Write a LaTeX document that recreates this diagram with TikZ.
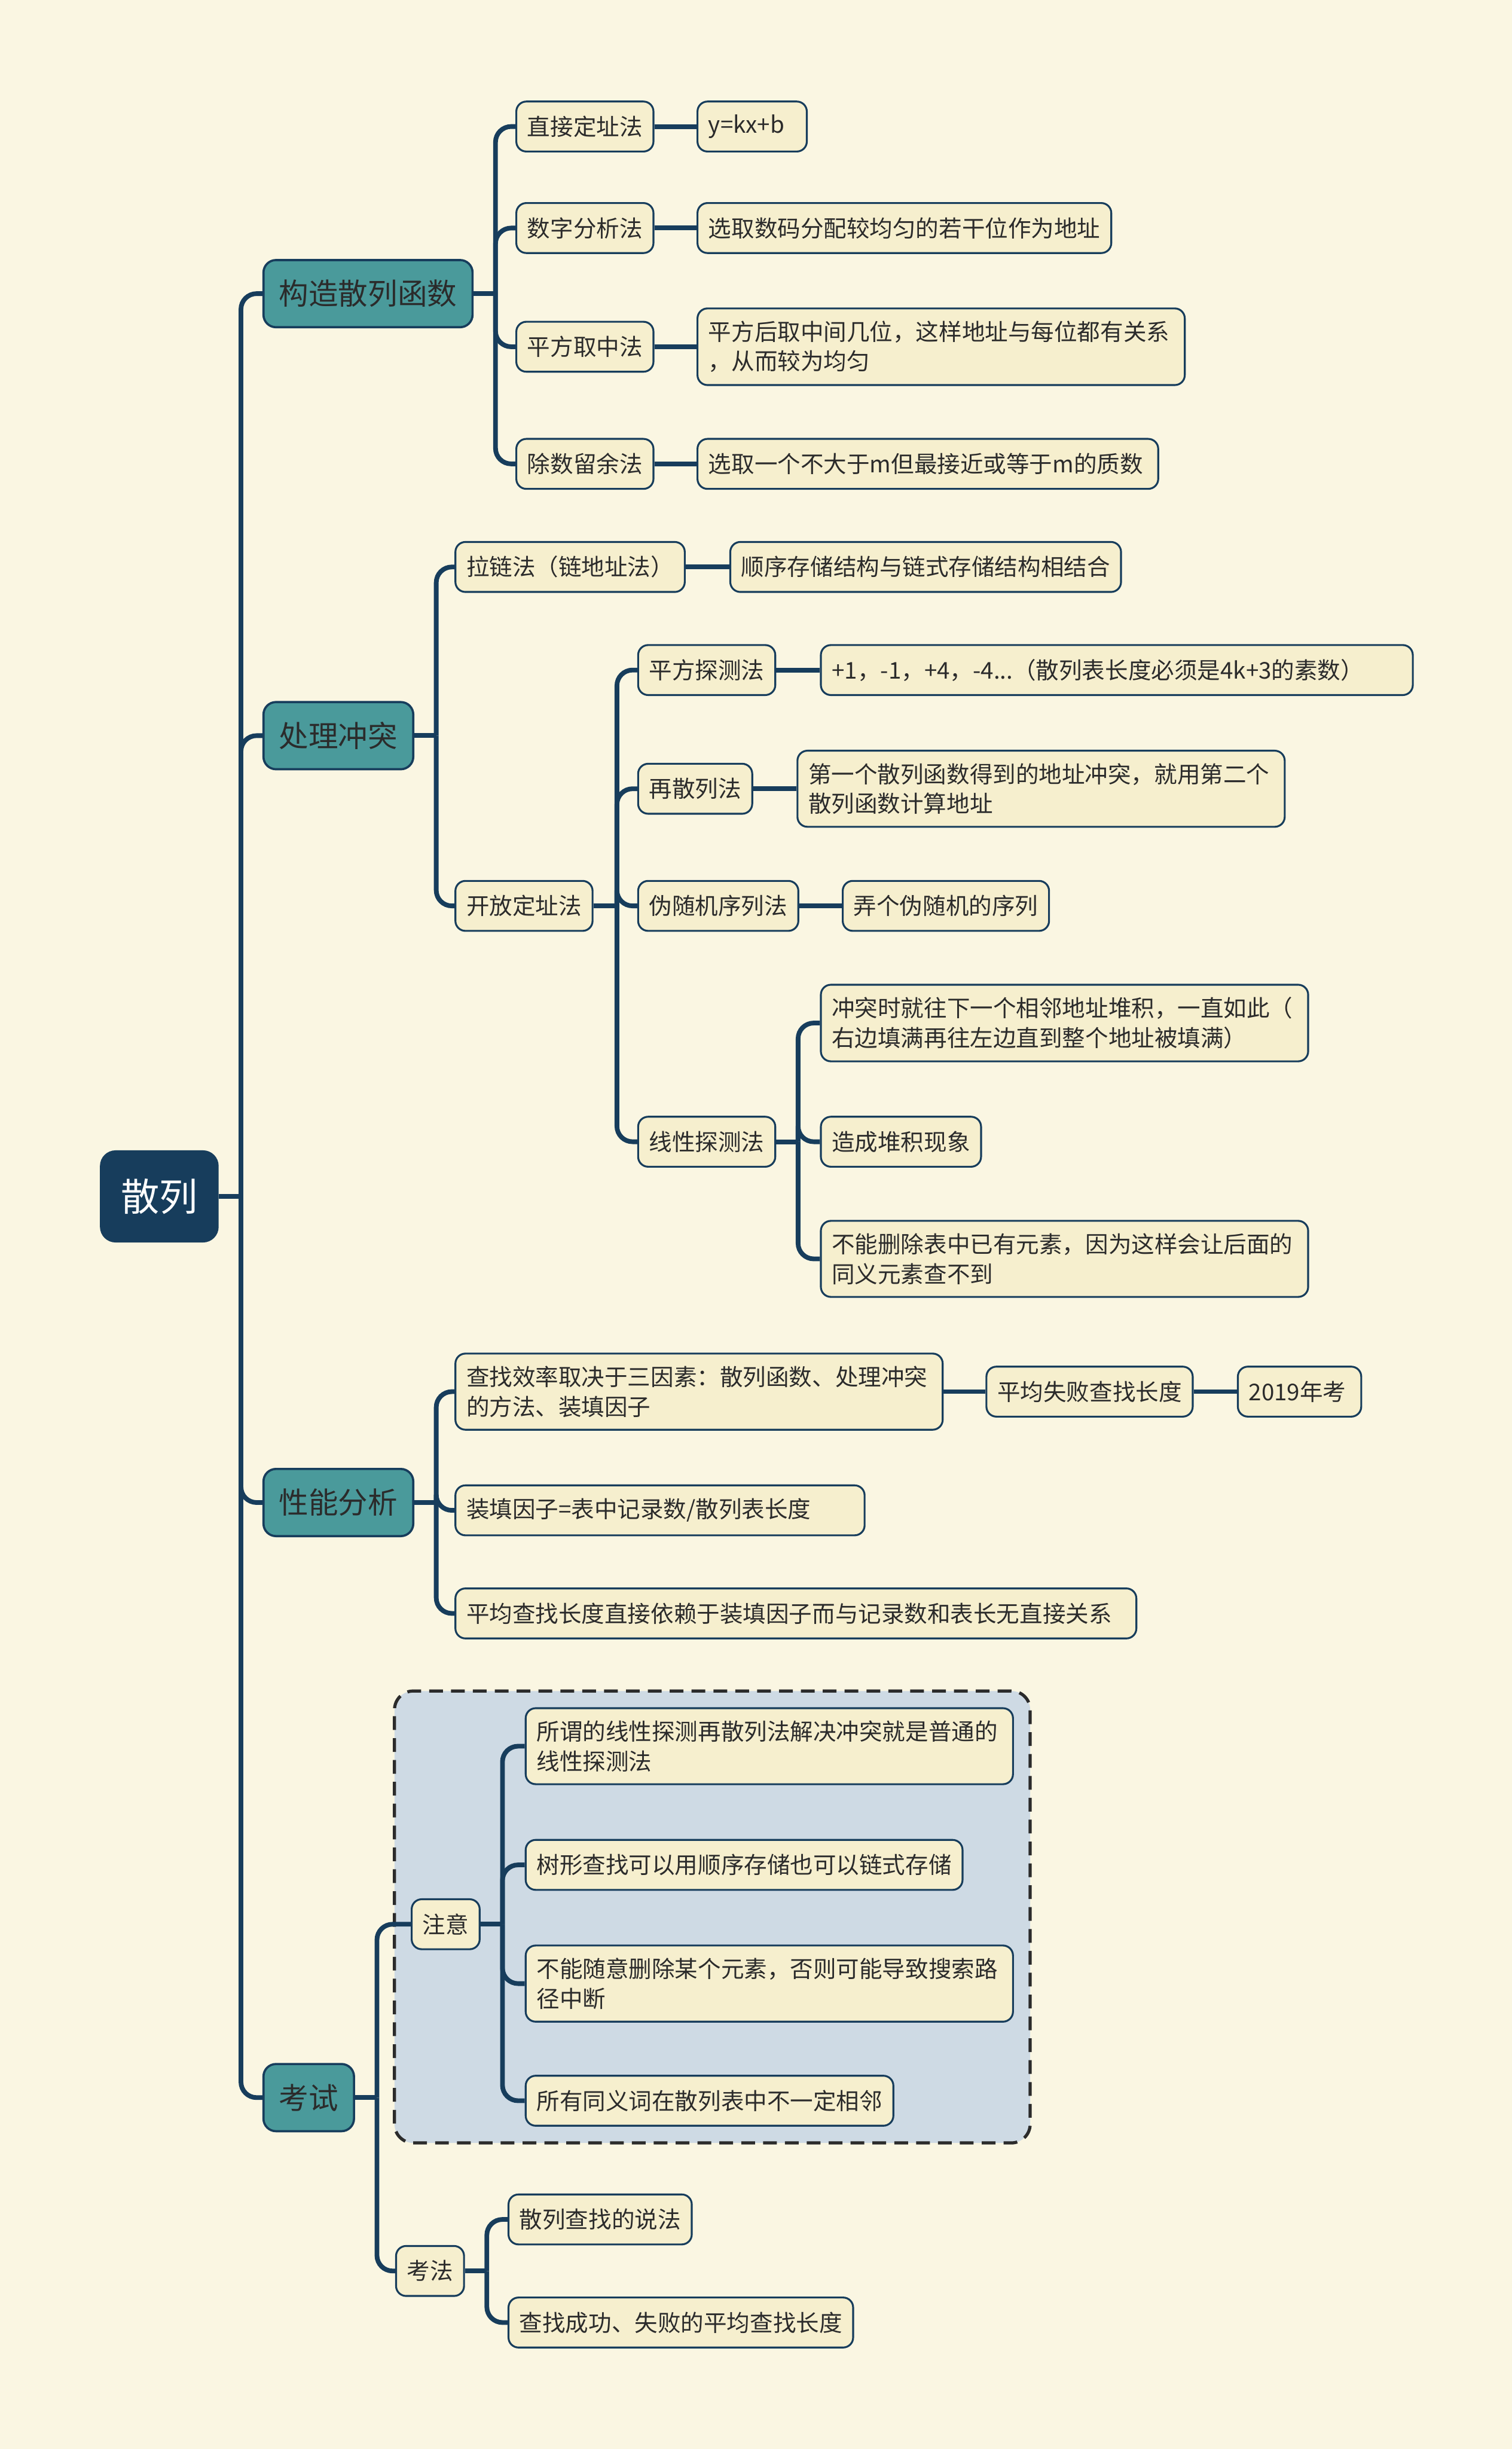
\documentclass[tikz,border=0pt]{standalone}
\usepackage{fontspec}
\newfontfamily\cjk{Noto Sans CJK SC}
\usetikzlibrary{positioning,fit,backgrounds}
\definecolor{deep}{RGB}{23,61,92}
\definecolor{sea}{RGB}{74,154,155}
\definecolor{paper}{RGB}{250,246,226}
\definecolor{cream}{RGB}{246,239,206}
\definecolor{mist}{RGB}{206,218,228}
\definecolor{txt}{RGB}{43,43,43}
\tikzset{
  rootbox/.style={fill=deep,text=white,rounded corners=2.5mm,minimum width=19mm,minimum height=14.75mm,font=\cjk\fontsize{17.5pt}{20pt}\selectfont},
  topic/.style={draw=deep,line width=0.35mm,fill=sea,text=txt,rounded corners=2mm,minimum height=10.75mm,inner xsep=2.5mm,font=\cjk\fontsize{13.5pt}{16pt}\selectfont,anchor=west},
  leaf/.style={draw=deep,line width=0.3mm,fill=cream,text=txt,rounded corners=1.6mm,minimum height=8mm,inner xsep=1.75mm,inner ysep=2mm,font=\cjk\fontsize{10.5pt}{13.5pt}\selectfont,anchor=west},
  fixw/.style={leaf,text width=#1,align=left},
  wide/.style={fixw=74.5mm},
  link/.style={draw=deep,line width=0.75mm,rounded corners=2.5mm},
  notebox/.style={draw=txt,fill=mist,line width=0.5mm,dash pattern=on 2.2mm off 1.3mm,rounded corners=3mm,inner sep=2.6mm},
}

\begin{document}
\begin{tikzpicture}[x=0.25mm,y=-0.25mm]
  \useasboundingbox (0,0) rectangle (968,1568);

  \node[rootbox] (root) at (102,766) {散列};

  % first level
  \node[topic] (c1) at (168,188) {构造散列函数};
  \node[topic] (c2) at (168,471) {处理冲突};
  \node[topic] (c3) at (168,962) {性能分析};
  \node[topic] (c4) at (168,1343) {考试};

  % hash functions
  \node[leaf] (a1) at (330,81) {直接定址法};
  \node[fixw=14mm] (a1v) at (446,81) {y=kx+b};
  \node[leaf] (a2) at (330,146) {数字分析法};
  \node[leaf] (a2v) at (446,146) {选取数码分配较均匀的若干位作为地址};
  \node[leaf] (a3) at (330,222) {平方取中法};
  \node[wide] (a3v) at (446,222) {平方后取中间几位，这样地址与每位都有关系\\，从而较为均匀};
  \node[leaf] (a4) at (330,297) {除数留余法};
  \node[fixw=70.25mm] (a4v) at (446,297) {选取一个不大于m但最接近或等于m的质数};

  % collisions
  \node[leaf] (b1) at (291,363) {拉链法（链地址法）};
  \node[leaf] (b1v) at (467,363) {顺序存储结构与链式存储结构相结合};
  \node[leaf] (b2) at (291,580) {开放定址法};
  \node[leaf] (d1) at (408,429) {平方探测法};
  \node[fixw=91.25mm] (d1v) at (525,429) {+1，-1，+4，-4...（散列表长度必须是4k+3的素数）};
  \node[leaf] (d2) at (408,505) {再散列法};
  \node[wide] (d2v) at (510,505) {第一个散列函数得到的地址冲突，就用第二个\\散列函数计算地址};
  \node[leaf] (d3) at (408,580) {伪随机序列法};
  \node[leaf] (d3v) at (539,580) {弄个伪随机的序列};
  \node[leaf] (d4) at (408,731) {线性探测法};
  \node[wide] (e1) at (525,655) {冲突时就往下一个相邻地址堆积，一直如此（\\右边填满再往左边直到整个地址被填满）};
  \node[leaf] (e2) at (525,731) {造成堆积现象};
  \node[wide] (e3) at (525,806) {不能删除表中已有元素，因为这样会让后面的\\同义元素查不到};

  % performance
  \node[wide] (f1) at (291,891) {查找效率取决于三因素：散列函数、处理冲突\\的方法、装填因子};
  \node[leaf] (f1a) at (631,891) {平均失败查找长度};
  \node[fixw=16.25mm] (f1b) at (792,891) {2019年考};
  \node[fixw=62mm] (f2) at (291,967) {装填因子=表中记录数/散列表长度};
  \node[fixw=105.5mm] (f3) at (291,1033) {平均查找长度直接依赖于装填因子而与记录数和表长无直接关系};

  % exam
  \node[leaf] (g1) at (263,1232) {注意};
  \node[wide] (h1) at (336,1118) {所谓的线性探测再散列法解决冲突就是普通的\\线性探测法};
  \node[leaf] (h2) at (336,1194) {树形查找可以用顺序存储也可以链式存储};
  \node[wide] (h3) at (336,1270) {不能随意删除某个元素，否则可能导致搜索路\\径中断};
  \node[leaf] (h4) at (336,1345) {所有同义词在散列表中不一定相邻};
  \node[leaf] (g2) at (253,1454) {考法};
  \node[leaf] (k1) at (325,1421) {散列查找的说法};
  \node[leaf] (k2) at (325,1487) {查找成功、失败的平均查找长度};

  % connectors
  \draw[link] (root.east) -- ++(14,0) coordinate (t0);
  \draw[link] (t0) |- (c1.west);
  \draw[link] (t0) |- (c2.west);
  \draw[link] (t0) |- (c3.west);
  \draw[link] (t0) |- (c4.west);

  \draw[link] (c1.east) -- ++(14,0) coordinate (t1);
  \draw[link] (t1) |- (a1.west);
  \draw[link] (t1) |- (a2.west);
  \draw[link] (t1) |- (a3.west);
  \draw[link] (t1) |- (a4.west);
  \draw[link] (a1) -- (a1v);
  \draw[link] (a2) -- (a2v);
  \draw[link] (a3) -- (a3v);
  \draw[link] (a4) -- (a4v);

  \draw[link] (c2.east) -- ++(14,0) coordinate (t2);
  \draw[link] (t2) |- (b1.west);
  \draw[link] (t2) |- (b2.west);
  \draw[link] (b1) -- (b1v);
  \draw[link] (b2.east) -- ++(15,0) coordinate (t3);
  \draw[link] (t3) |- (d1.west);
  \draw[link] (t3) |- (d2.west);
  \draw[link] (t3) |- (d3.west);
  \draw[link] (t3) |- (d4.west);
  \draw[link] (d1) -- (d1v);
  \draw[link] (d2) -- (d2v);
  \draw[link] (d3) -- (d3v);
  \draw[link] (d4.east) -- ++(14,0) coordinate (t4);
  \draw[link] (t4) |- (e1.west);
  \draw[link] (t4) |- (e2.west);
  \draw[link] (t4) |- (e3.west);

  \draw[link] (c3.east) -- ++(14,0) coordinate (t5);
  \draw[link] (t5) |- (f1.west);
  \draw[link] (t5) |- (f2.west);
  \draw[link] (t5) |- (f3.west);
  \draw[link] (f1) -- (f1a);
  \draw[link] (f1a) -- (f1b);

  \draw[link] (c4.east) -- ++(14,0) coordinate (t6);
  \draw[link] (t6) |- (g1.west);
  \draw[link] (t6) |- (g2.west);
  \draw[link] (g1.east) -- ++(14,0) coordinate (t7);
  \draw[link] (t7) |- (h1.west);
  \draw[link] (t7) |- (h2.west);
  \draw[link] (t7) |- (h3.west);
  \draw[link] (t7) |- (h4.west);
  \draw[link] (g2.east) -- ++(14,0) coordinate (t8);
  \draw[link] (t8) |- (k1.west);
  \draw[link] (t8) |- (k2.west);

  \begin{scope}[on background layer]
    \fill[paper] (0,0) rectangle (968,1568);
    \node[notebox,fit=(g1)(h1)(h3)(h4)] (zone) {};
  \end{scope}
\end{tikzpicture}
\end{document}
